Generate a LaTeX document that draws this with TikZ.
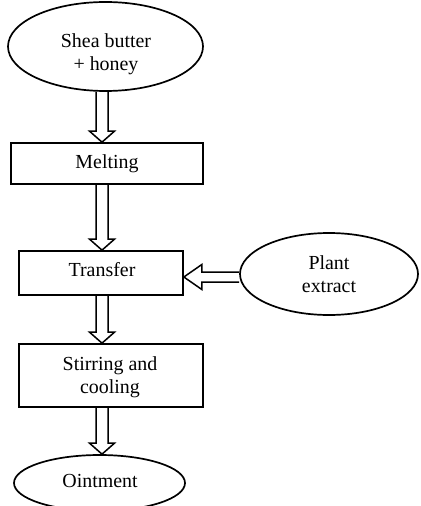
\documentclass[tikz,border=0pt]{standalone}
\usepackage{fontspec}
\setmainfont{Liberation Serif}
\usetikzlibrary{shapes.geometric,calc}
\begin{document}
\begin{tikzpicture}[x=1bp,y=-1bp,
  every node/.style={font=\fontsize{20}{23}\selectfont, align=center, inner sep=0pt, line width=1.7bp},
  oval/.style={ellipse, draw=black},
  stepbox/.style={rectangle, draw=black},
  plaintext/.style={draw=none},
  hollowdown/.style={line width=1.5bp, line join=miter, to path={
    ($(\tikztostart)+(-6,0)$) -- ($(\tikztotarget)+(-6,-11)$) -- ($(\tikztotarget)+(-12.5,-11)$)
    -- (\tikztotarget) -- ($(\tikztotarget)+(12.5,-11)$) -- ($(\tikztotarget)+(6,-11)$)
    -- ($(\tikztostart)+(6,0)$)}},
  hollowleft/.style={line width=1.5bp, line join=miter, to path={
    ($(\tikztostart)+(0,-5)$) -- ($(\tikztotarget)+(18,-5)$) -- ($(\tikztotarget)+(18,-12.5)$)
    -- (\tikztotarget) -- ($(\tikztotarget)+(18,12.5)$) -- ($(\tikztotarget)+(18,5)$)
    -- ($(\tikztostart)+(0,5)$)}}
]
\useasboundingbox (0,0) rectangle (420,506);
\clip (0,0) rectangle (420,506);
\fill[white] (0,0) rectangle (420,506);

\node[oval, minimum width=195bp, minimum height=89bp] (shea) at (105.5,46.5) {};
\node[plaintext] (sheatext) at (106,54) {Shea butter\\+ honey};
\node[stepbox, minimum width=192bp, minimum height=41bp] (melt) at (107,163.5) {Melting};
\node[stepbox, minimum width=164bp, minimum height=44bp] (trans) at (101,273) {};
\node[plaintext] (transtext) at (102,269.5) {Transfer};
\node[stepbox, minimum width=184bp, minimum height=63bp] (stir) at (111,375.5) {};
\node[plaintext] (stirtext) at (110,377) {Stirring and\\cooling};
\node[oval, minimum width=171bp, minimum height=56bp] (oint) at (99.5,483) {};
\node[plaintext] (ointtext) at (100,480.5) {Ointment};
\node[oval, minimum width=178bp, minimum height=82bp] (plant) at (329,274) {Plant\\extract};

\coordinate (ax) at (102,0);
\coordinate (ay) at (0,277);

\draw[hollowdown] (shea.south -| ax) to (melt.north -| ax);
\draw[hollowdown] (melt.south -| ax) to (trans.north -| ax);
\draw[hollowdown] (trans.south -| ax) to (stir.north -| ax);
\draw[hollowdown] (stir.south -| ax) to (oint.north -| ax);
\draw[hollowleft] (plant.west |- ay) to (trans.east |- ay);
\end{tikzpicture}
\end{document}
